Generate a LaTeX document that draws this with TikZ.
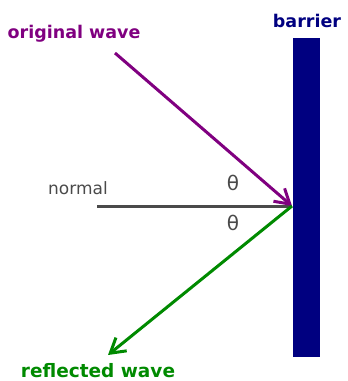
\documentclass[tikz,border=0pt]{standalone}
\usepackage{fontspec}
\setmainfont{DejaVu Sans}
\usepackage{xcolor}
\definecolor{wavein}{HTML}{800080}
\definecolor{waveout}{HTML}{008A00}
\definecolor{wall}{HTML}{000080}
\definecolor{norm}{HTML}{4A4A4A}
\usetikzlibrary{positioning,arrows.meta}

\begin{document}
\begin{tikzpicture}[x=1pt,y=-1pt,font=\bfseries\fontsize{17.5}{20}\selectfont,
  lbl/.style={inner sep=0pt,anchor=base},
  ray/.style={line width=3pt,-{Straight Barb[length=5mm,width=6mm,line width=3pt]}}]
  \useasboundingbox (0,0) rectangle (348,381);
  \fill[wall] (293,38) rectangle (320,357);
  \coordinate (hit) at (292,206);
  \coordinate (src) at (115,53);
  \coordinate (dst) at (108,355);
  \coordinate (nrm) at (97,206);
  \node[lbl,wall] (barrier) at (307,27) {barrier};
  \node[lbl,wavein] (orig) at (74,38) {original wave};
  \node[lbl,waveout,font=\bfseries\fontsize{18.5}{21}\selectfont] (refl) at (98,377) {reflected wave};
  \node[lbl,norm,font=\fontsize{17}{20}\selectfont] (nlabel) at (78,194) {normal};
  \node[lbl,norm,font=\fontsize{20}{22}\selectfont] (t1) at (233,190) {θ};
  \node[lbl,norm,font=\fontsize{20}{22}\selectfont] (t2) at (233,230) {θ};
  \draw[norm,line width=3pt] (nrm) -- (hit);
  \draw[ray,wavein] (src) -- (hit);
  \draw[ray,waveout] (hit) -- (dst);
\end{tikzpicture}
\end{document}
